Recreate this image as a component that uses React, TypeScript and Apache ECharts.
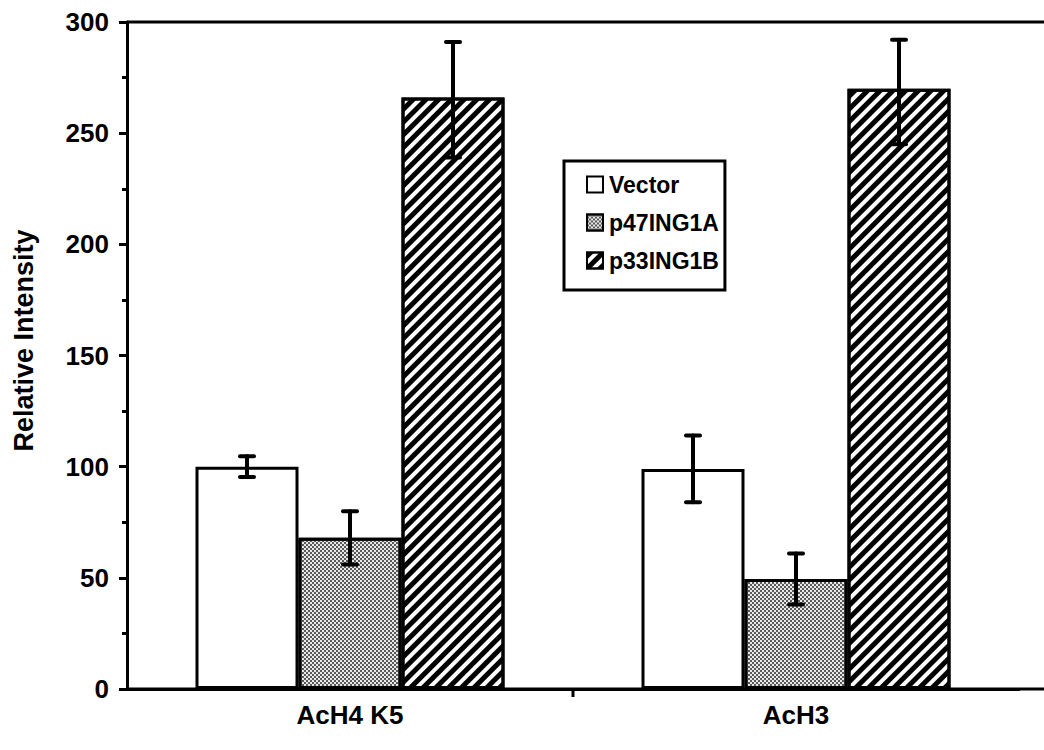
import React, { useEffect, useRef } from "react";
import * as echarts from "echarts";

const categories = ["AcH4 K5", "AcH3"];
const seriesNames = ["Vector", "p47ING1A", "p33ING1B"];
const vectorValues = [100, 99];
const p47Values = [68, 49.5];
const p33Values = [266, 270];
const vectorLow = [95.3, 84];
const vectorHigh = [104.7, 114];
const p47Low = [56, 38];
const p47High = [80, 61];
const p33Low = [239, 245];
const p33High = [291, 292];
const yTicks = [0, 50, 100, 150, 200, 250, 300];

const GRID_LEFT = 127;
const GRID_TOP = 22;
const GRID_RIGHT = 25;
const GRID_BOTTOM = 61;
const W = 1044;
const H = 750;
const BAR_W = 103;
const FONT = "'Liberation Sans', Arial, Helvetica, sans-serif";

export default function App() {
  const ref = useRef<HTMLDivElement>(null);
  useEffect(() => {
    if (!ref.current) return;
    const chart = echarts.init(ref.current, undefined, { renderer: "svg" });
    const values = [vectorValues, p47Values, p33Values];
    const lows = [vectorLow, p47Low, p33Low];
    const highs = [vectorHigh, p47High, p33High];
    const styles: any[] = [
      { color: "#ffffff", borderColor: "#000", borderWidth: 3 },
      {
        color: "#e8e8e8",
        borderColor: "#000",
        borderWidth: 3,
        decal: {
          symbol: "rect",
          symbolSize: 1,
          color: "#5a5a5a",
          backgroundColor: "#e8e8e8",
          dashArrayX: [
            [2, 2],
            [0, 2, 2, 0],
          ],
          dashArrayY: [2, 0],
        },
      },
      {
        color: "#ffffff",
        borderColor: "#000",
        borderWidth: 3,
        decal: {
          symbol: "rect",
          symbolSize: 1,
          color: "#000",
          backgroundColor: "#fff",
          dashArrayX: [1, 0],
          dashArrayY: [4.5, 3.5],
          rotation: -Math.PI / 4,
        },
      },
    ];
    const barSeries = seriesNames.map((name, i) => ({
      name,
      type: "bar",
      data: values[i],
      barWidth: BAR_W,
      barGap: "0%",
      itemStyle: styles[i],
      z: 2,
    }));
    const errSeries = seriesNames.map((name, i) => ({
      name: name + " err",
      type: "custom",
      z: 5,
      data: categories.map((_, k) => [k, lows[i][k], highs[i][k]]),
      renderItem: (params: any, api: any) => {
        const k = api.value(0);
        const lo = api.coord([k, api.value(1)]);
        const hi = api.coord([k, api.value(2)]);
        const x = lo[0] + (i - 1) * BAR_W;
        const cap = 7;
        const st = { stroke: "#000", lineWidth: 4, lineCap: "round" };
        return {
          type: "group",
          children: [
            { type: "line", shape: { x1: x, y1: lo[1], x2: x, y2: hi[1] }, style: st },
            { type: "line", shape: { x1: x - cap, y1: lo[1], x2: x + cap, y2: lo[1] }, style: st },
            { type: "line", shape: { x1: x - cap, y1: hi[1], x2: x + cap, y2: hi[1] }, style: st },
          ],
        };
      },
    }));
    const plotRight = W - GRID_RIGHT;
    const band = (plotRight - GRID_LEFT) / categories.length;
    const axisY = H - GRID_BOTTOM;
    chart.setOption({
      animation: false,
      backgroundColor: "#ffffff",
      textStyle: { fontFamily: FONT },
      grid: { left: GRID_LEFT, right: GRID_RIGHT, top: GRID_TOP, bottom: GRID_BOTTOM },
      legend: {
        data: seriesNames,
        orient: "vertical",
        left: 564,
        top: 161,
        padding: [12, 6, 18, 22],
        itemGap: 15,
        itemWidth: 16,
        itemHeight: 16,
        icon: "rect",
        borderColor: "#000",
        borderWidth: 3,
        textStyle: { fontFamily: FONT, fontWeight: "bold", fontSize: 23, color: "#000", padding: [0, 0, 0, 1] },
      },
      xAxis: {
        type: "category",
        data: categories,
        axisLine: { lineStyle: { color: "#000", width: 3 } },
        axisTick: { show: false },
        axisLabel: { fontFamily: FONT, fontWeight: "bold", fontSize: 26, color: "#000", margin: 13 },
      },
      yAxis: {
        type: "value",
        min: 0,
        max: 300,
        interval: 50,
        name: "Relative Intensity",
        nameLocation: "middle",
        nameGap: 90,
        nameTextStyle: { fontFamily: FONT, fontWeight: "bold", fontSize: 27, color: "#000", padding: [0, 0, 0, 30] },
        axisLine: { show: true, lineStyle: { color: "#000", width: 3 } },
        axisTick: { show: true, length: 8, lineStyle: { color: "#000", width: 3 } },
        minorTick: { show: true, splitNumber: 2, length: 5, lineStyle: { color: "#000", width: 3 } },
        splitLine: { show: false },
        axisLabel: {
          fontFamily: FONT,
          fontWeight: "bold",
          fontSize: 26,
          color: "#000",
          margin: 18,
          formatter: (v: number) => (yTicks.includes(v) ? String(v) : ""),
        },
      },
      graphic: [
        { type: "line", shape: { x1: GRID_LEFT, y1: GRID_TOP, x2: W, y2: GRID_TOP }, style: { stroke: "#000", lineWidth: 3 }, z: 10 },
        { type: "line", shape: { x1: GRID_LEFT, y1: axisY, x2: W, y2: axisY }, style: { stroke: "#000", lineWidth: 3 }, z: 10 },
        { type: "line", shape: { x1: GRID_LEFT + band, y1: axisY, x2: GRID_LEFT + band, y2: axisY + 8 }, style: { stroke: "#000", lineWidth: 3 }, z: 10 },
      ],
      series: [...barSeries, ...errSeries],
    });
    return () => chart.dispose();
  }, []);
  return <div ref={ref} style={{ position: "absolute", left: 0, top: 0, width: W, height: H }} />;
}
